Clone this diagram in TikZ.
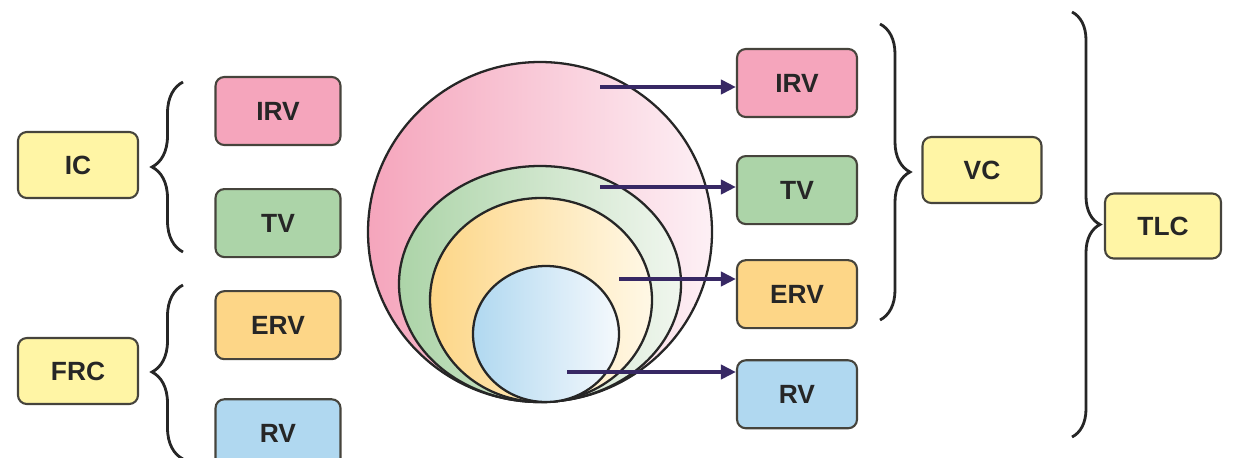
\documentclass[tikz,border=0pt]{standalone}
\usepackage{fontspec}
\setmainfont{Liberation Sans}
\usetikzlibrary{arrows.meta,decorations.pathreplacing,positioning}

\definecolor{boxline}{RGB}{70,68,60}
\definecolor{capfill}{RGB}{255,245,165}
\definecolor{irvfill}{RGB}{245,165,188}
\definecolor{tvfill}{RGB}{172,212,168}
\definecolor{ervfill}{RGB}{253,214,135}
\definecolor{rvfill}{RGB}{176,216,240}
\definecolor{irvpale}{RGB}{253,240,245}
\definecolor{tvpale}{RGB}{240,246,238}
\definecolor{ervpale}{RGB}{255,248,230}
\definecolor{rvpale}{RGB}{245,249,253}
\definecolor{arrowc}{RGB}{55,40,100}

\begin{document}
\begin{tikzpicture}[
        x=0.02cm, y=-0.02cm,
        every node/.style={draw=boxline, line width=1.2pt, rounded corners=5pt, align=center,
            font=\bfseries\fontsize{15}{18}\selectfont, text=black!85},
        capbox/.style={fill=capfill, minimum width=2.4cm, minimum height=1.32cm},
        volbox/.style={minimum width=2.5cm, minimum height=1.36cm},
        ring/.style={draw=black!85, line width=1.3pt},
        volarrow/.style={draw=arrowc, line width=2.3pt, -{Triangle[length=3mm,width=2.8mm]}},
        curly/.style={draw=black!85, line width=1.6pt, decorate, decoration={brace, amplitude=0.62cm}}
    ]
    \useasboundingbox (0,0) rectangle (1253,457);

    % Lung volumes as nested circles
    \shadedraw[ring, left color=irvfill, right color=irvpale] (540,232) ellipse [x radius=172, y radius=170];
    \shadedraw[ring, left color=tvfill, right color=tvpale] (540,284) ellipse [x radius=141, y radius=118];
    \shadedraw[ring, left color=ervfill, right color=ervpale] (541,300) ellipse [x radius=111, y radius=102];
    \shadedraw[ring, left color=rvfill, right color=rvpale] (546,334) ellipse [x radius=73, y radius=68];

    % Nodes
    \node[capbox] (ic) at (78,165) {IC};
    \node[capbox] (frc) at (78,371) {FRC};

    \node[volbox, fill=irvfill] (irvL) at (278,111) {IRV};
    \node[volbox, fill=tvfill, below=0.84cm of irvL] (tvL) {TV};
    \node[volbox, fill=ervfill, below=0.64cm of tvL] (ervL) {ERV};
    \node[volbox, fill=rvfill, below=0.76cm of ervL] (rvL) {RV};

    \node[volbox, minimum width=2.4cm, fill=irvfill] (irvR) at (797,83) {IRV};
    \node[volbox, minimum width=2.4cm, fill=tvfill, below=0.74cm of irvR] (tvR) {TV};
    \node[volbox, minimum width=2.4cm, fill=ervfill, below=0.68cm of tvR] (ervR) {ERV};
    \node[volbox, minimum width=2.4cm, fill=rvfill, below=0.6cm of ervR] (rvR) {RV};

    \node[capbox, minimum width=2.38cm] (vc) at (982,170) {VC};
    \node[capbox, minimum width=2.32cm, minimum height=1.3cm] (tlc) at (1163,226) {TLC};

    % Edges
    \coordinate (fromIRV) at (600,87);
    \coordinate (fromTV) at (600,187);
    \coordinate (fromERV) at (619,279);
    \coordinate (fromRV) at (567,372);
    \draw[volarrow] (fromIRV) -- (fromIRV -| irvR.west);
    \draw[volarrow] (fromTV) -- (fromTV -| tvR.west);
    \draw[volarrow] (fromERV) -- (fromERV -| ervR.west);
    \draw[volarrow] (fromRV) -- (fromRV -| rvR.west);

    % Braces
    \coordinate (icTop) at (183,82);
    \coordinate (icBot) at (183,252);
    \coordinate (frcTop) at (183,285);
    \coordinate (frcBot) at (183,459);
    \coordinate (vcTop) at (880,24);
    \coordinate (vcBot) at (880,320);
    \coordinate (tlcTop) at (1072,12);
    \coordinate (tlcBot) at (1072,437);
    \draw[curly] (icBot) -- (icTop);
    \draw[curly] (frcBot) -- (frcTop);
    \draw[curly, decoration={amplitude=0.6cm}] (vcTop) -- (vcBot);
    \draw[curly, decoration={amplitude=0.56cm}] (tlcTop) -- (tlcBot);

    \end{tikzpicture}
\end{document}
